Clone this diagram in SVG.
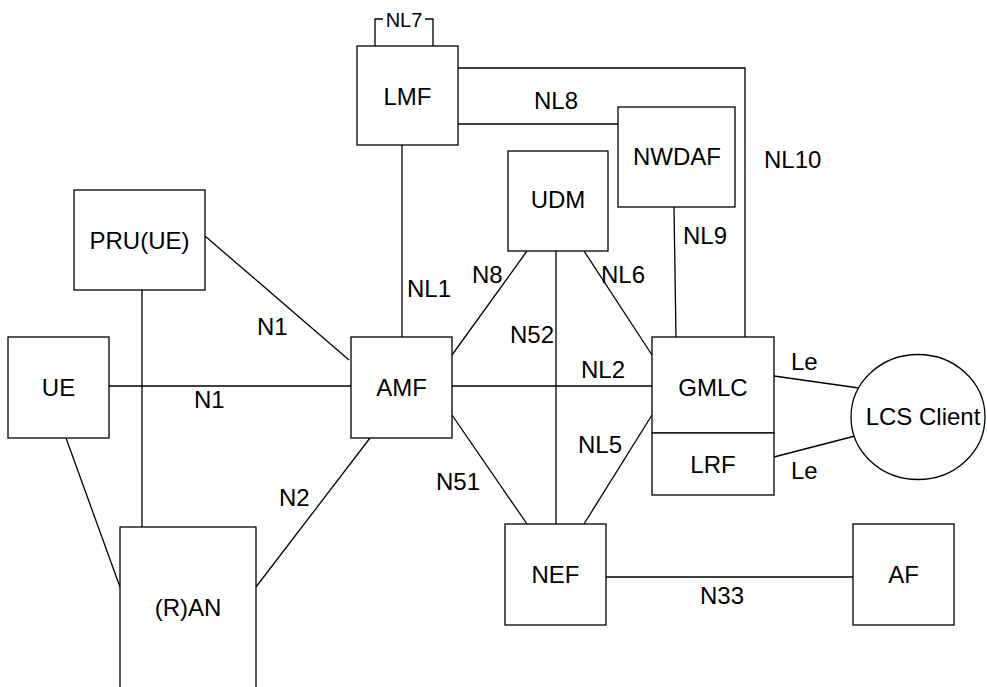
<svg xmlns="http://www.w3.org/2000/svg" width="987" height="687" viewBox="0 0 987 687">
<style>
.b{fill:#fff;stroke:#000;stroke-width:1.3}
.c{fill:none;stroke:#000;stroke-width:1.3}
text{font-family:"Liberation Sans",Arial,sans-serif;font-size:24px;fill:#000}
.m{text-anchor:middle}
.s{font-size:20px}
</style>
<rect width="987" height="687" fill="#fff"/>
<g id="connectors" class="c">
<polyline points="375,46 375,19 383,19"/>
<polyline points="425,19 433,19 433,46"/>
<polyline points="458,68 745,68 745,337"/>
<line x1="458" y1="124" x2="618" y2="124"/>
<line x1="402" y1="145" x2="402" y2="337"/>
<line x1="205" y1="236" x2="349" y2="360"/>
<line x1="109" y1="386" x2="352" y2="386"/>
<line x1="142" y1="290" x2="142" y2="527"/>
<line x1="66" y1="438" x2="120" y2="587"/>
<line x1="370" y1="438" x2="256" y2="587"/>
<line x1="527" y1="251" x2="452" y2="355"/>
<line x1="584" y1="251" x2="652" y2="355"/>
<line x1="556" y1="251" x2="556" y2="524"/>
<line x1="452" y1="386" x2="652" y2="386"/>
<line x1="452" y1="415" x2="527" y2="524"/>
<line x1="652" y1="415" x2="584" y2="524"/>
<line x1="674" y1="207" x2="676" y2="337"/>
<line x1="774" y1="376" x2="859" y2="388"/>
<line x1="774" y1="457" x2="855" y2="436"/>
<line x1="606" y1="577" x2="853" y2="577"/>
</g>
<g id="labels">
<text x="404" y="27" class="m s">NL7</text>
<text x="534" y="109">NL8</text>
<text x="764" y="168">NL10</text>
<text x="683" y="244">NL9</text>
<text x="407" y="297">NL1</text>
<text x="257" y="335">N1</text>
<text x="194" y="408">N1</text>
<text x="472" y="283">N8</text>
<text x="601" y="283">NL6</text>
<text x="510" y="343">N52</text>
<text x="581" y="378">NL2</text>
<text x="578" y="453">NL5</text>
<text x="436" y="490">N51</text>
<text x="279" y="506">N2</text>
<text x="700" y="604">N33</text>
<text x="791" y="370">Le</text>
<text x="791" y="479">Le</text>
</g>
<g id="LMF"><rect class="b" x="357" y="46" width="101" height="99"/><text x="407.5" y="105" class="m">LMF</text></g>
<g id="NWDAF"><rect class="b" x="618" y="107" width="117" height="100"/><text x="677" y="165" class="m">NWDAF</text></g>
<g id="UDM"><rect class="b" x="508" y="151" width="100" height="100"/><text x="558" y="208" class="m">UDM</text></g>
<g id="PRU"><rect class="b" x="74" y="190" width="131" height="100"/><text x="139.5" y="249" class="m">PRU(UE)</text></g>
<g id="UE"><rect class="b" x="8" y="337" width="101" height="101"/><text x="58.5" y="396" class="m">UE</text></g>
<g id="AMF"><rect class="b" x="351" y="337" width="101" height="101"/><text x="401.5" y="396" class="m">AMF</text></g>
<g id="GMLC"><rect class="b" x="652" y="337" width="122" height="96"/><text x="713" y="396" class="m">GMLC</text></g>
<g id="LRF"><rect class="b" x="652" y="433" width="122" height="62"/><text x="713" y="473" class="m">LRF</text></g>
<g id="LCSClient"><ellipse class="b" cx="918" cy="417" rx="67" ry="62.5"/><text x="923" y="425" class="m">LCS Client</text></g>
<g id="RAN"><rect class="b" x="120" y="527" width="136" height="180"/><text x="188" y="616" class="m">(R)AN</text></g>
<g id="NEF"><rect class="b" x="505" y="524" width="101" height="101"/><text x="555.5" y="583" class="m">NEF</text></g>
<g id="AF"><rect class="b" x="853" y="524" width="101" height="101"/><text x="903.5" y="583" class="m">AF</text></g>
</svg>
